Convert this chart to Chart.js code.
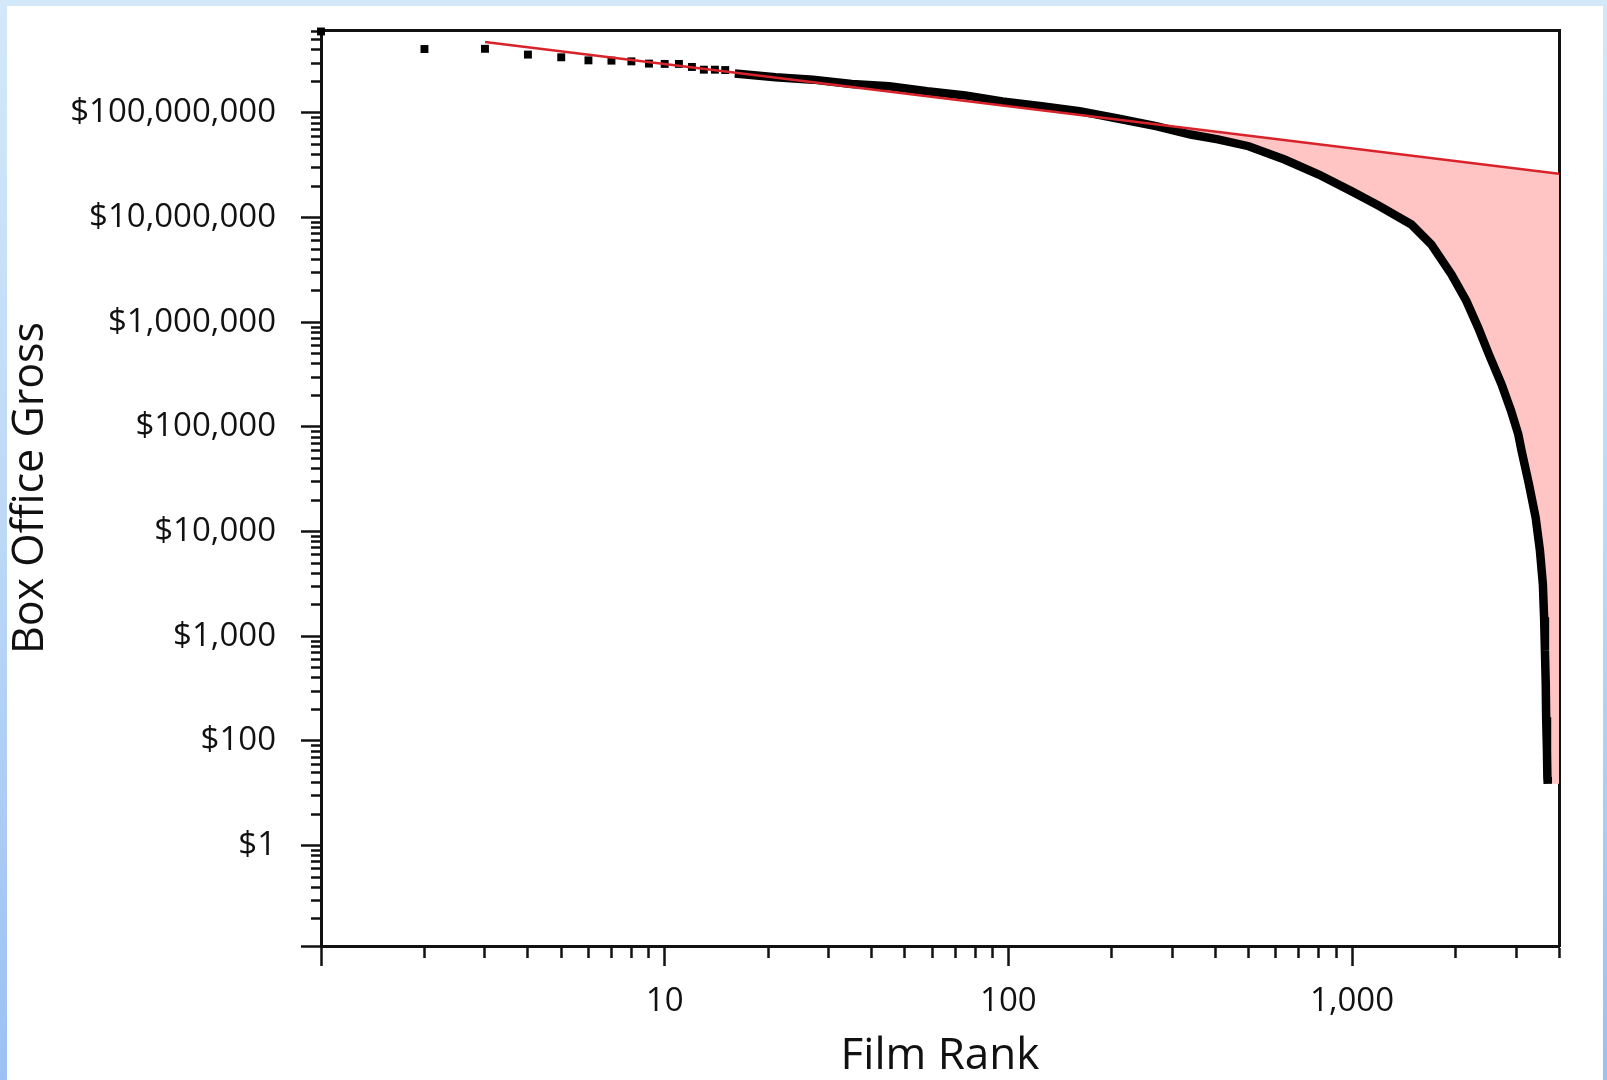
<!DOCTYPE html>
<html>
<head>
<meta charset="utf-8">
<title>Box Office Gross by Film Rank</title>
<script src="https://cdn.jsdelivr.net/npm/chart.js@4.4.1/dist/chart.umd.min.js"></script>
<style>
    html, body { margin: 0; padding: 0; }
    body {
        width: 1607px; height: 1080px; overflow: hidden; position: relative;
        background: linear-gradient(to bottom, #d3e8f9 0%, #bcd8f7 50%, #9bc0f3 100%);
    }
    .panel { position: absolute; left: 7px; top: 6px; right: 4px; bottom: 0; background: #fff; }
    #chart { position: absolute; left: 0; top: 0; }
</style>
</head>
<body>
<div class="panel"></div>
<canvas id="chart" width="1607" height="1080"></canvas>
<script>
// top ranked films, each one drawn as its own square
var topRanks = [1, 2, 3, 4, 5, 6, 7, 8, 9, 10, 11, 12, 13, 14, 15];
var topGross = [6.0e8, 4.08e8, 4.1e8, 3.61e8, 3.40e8, 3.18e8, 3.16e8, 3.11e8, 2.96e8, 2.94e8, 2.94e8, 2.75e8, 2.59e8, 2.59e8, 2.57e8];

// the rest of the list (so dense it reads as a thick band)
var bandRanks = [16, 21, 27, 35, 45, 58, 75, 96, 125, 161, 208, 269, 339, 407, 500, 636, 800, 995, 1200, 1488,
                 1700, 1946, 2150, 2328, 2500, 2722, 2900, 3045, 3113, 3270, 3420, 3520, 3590, 3620, 3640, 3660,
                 3670, 3690, 3700, 3710];
var bandGross = [2.38e8, 2.19e8, 2.08e8, 1.89e8, 1.80e8, 1.61e8, 1.47e8, 1.29e8, 1.16e8, 1.04e8, 8.84e7, 7.47e7,
                 6.22e7, 5.6e7, 4.81e7, 3.59e7, 2.58e7, 1.79e7, 1.29e7, 8.6e6, 5.55e6, 2.87e6, 1.6e6, 8.88e5,
                 4.95e5, 2.56e5, 1.43e5, 8.5e4, 5.9e4, 2.84e4, 1.37e4, 6.6e3, 3.16e3, 1.52e3, 731, 352,
                 169, 81, 45, 39];

// power law fit (red line)
var fitRanks = [3, 4000];
var fitGross = [4.75e8, 2.62e7];

// axis ticks with labels
var xTickValues = [10, 100, 1000];
var xTickLabels = ['10', '100', '1,000'];
var yTickValues = [1e1, 1e2, 1e3, 1e4, 1e5, 1e6, 1e7, 1e8];
var yTickLabels = ['$1', '$100', '$1,000', '$10,000', '$100,000', '$1,000,000', '$10,000,000', '$100,000,000'];

var xMin = 1, xMax = 4000;
var yMin = 1.1, yMax = 6.2e8;
var fillFromRank = 200;     // pink gap starts where the band leaves the fit


function toPoints(xs, ys) {
    return xs.map(function (x, i) { return {x: x, y: ys[i]}; });
}

// axis start, then 1..9 x 10^n up to max
function logTicks(min, max) {
    var out = [min];
    for (var p = 1; p <= max; p *= 10) {
        for (var m = 1; m < 10; m++) {
            var v = m * p;
            if (v > min && v <= max) out.push(v);
        }
    }
    return out;
}

function isDecade(v) {
    var l = Math.log10(v);
    return Math.abs(l - Math.round(l)) < 1e-9;
}

// long ticks on decades and at the axis start, short ones between
// (the dash keeps only the part next to the axis)
function axisGrid(side) {
    return {
        drawOnChartArea: false,
        tickLength: 20,
        tickWidth: 2.5,
        tickColor: '#111',
        tickBorderDash: function (ctx) {
            if (!ctx.tick) return [];
            var v = ctx.tick.value;
            if (isDecade(v) || v <= ctx.scale.min) return [];
            return side === 'left' ? [0, 10, 10, 100] : [10, 100];
        }
    };
}

// fixed box sizes so the plot frame lands where it should
function fixSize(w, h) {
    return function (scale) {
        if (w !== null) scale.width = w;
        if (h !== null) scale.height = h;
        scale.paddingTop = 0;
        scale.paddingBottom = 0;
        scale.paddingLeft = 0;
        scale.paddingRight = 0;
    };
}

var fillPoints = toPoints(bandRanks, bandGross).filter(function (p) { return p.x >= fillFromRank; });
fillPoints.push({x: xMax, y: bandGross[bandGross.length - 1]});

Chart.defaults.font.family = "'Open Sans', 'Noto Sans', sans-serif";
Chart.defaults.color = '#111';

var ctx = document.getElementById('chart');
var chart = new Chart(ctx, {
    type: 'scatter',
    data: {
        datasets: [{
            label: 'fit',
            data: toPoints(fitRanks, fitGross),
            showLine: true,
            borderColor: '#d9232b',
            borderWidth: 2.5,
            pointRadius: 0,
            fill: false,
            order: 0
        }, {
            label: 'top films',
            data: toPoints(topRanks, topGross),
            pointStyle: 'rect',
            pointRadius: 5.6,
            pointBackgroundColor: '#000',
            pointBorderWidth: 0,
            clip: false,
            order: 1
        }, {
            label: 'films',
            data: toPoints(bandRanks, bandGross),
            showLine: true,
            borderColor: '#000',
            borderWidth: 8.5,
            pointRadius: 0,
            fill: false,
            order: 2
        }, {
            label: 'gap',
            data: fillPoints,
            showLine: true,
            borderWidth: 0,
            borderColor: 'rgba(0,0,0,0)',
            pointRadius: 0,
            fill: {target: 0, above: 'rgba(0,0,0,0)', below: '#ffc4c4'},
            order: 3
        }]
    },
    options: {
        responsive: false,
        animation: false,
        layout: {padding: {top: 30, right: 48, bottom: 0, left: 0}},
        plugins: {
            legend: {display: false},
            tooltip: {enabled: false}
        },
        scales: {
            x: {
                type: 'logarithmic',
                position: 'bottom',
                min: xMin,
                max: xMax,
                afterBuildTicks: function (scale) {
                    scale.ticks = logTicks(xMin, xMax).map(function (v) { return {value: v}; });
                },
                afterFit: fixSize(null, 134),
                border: {display: true, width: 3, color: '#111'},
                grid: axisGrid('bottom'),
                ticks: {
                    autoSkip: false,
                    maxRotation: 0,
                    padding: 16,
                    font: {size: 33},
                    callback: function (v) {
                        var i = xTickValues.indexOf(v);
                        return i < 0 ? '' : xTickLabels[i];
                    }
                },
                title: {
                    display: true,
                    text: 'Film Rank',
                    font: {size: 44, lineHeight: 1},
                    padding: {top: 0, bottom: 2}
                }
            },
            y: {
                type: 'logarithmic',
                position: 'left',
                min: yMin,
                max: yMax,
                afterBuildTicks: function (scale) {
                    scale.ticks = logTicks(yMin, yMax).map(function (v) { return {value: v}; });
                },
                afterFit: fixSize(321, null),
                border: {display: true, width: 3, color: '#111'},
                grid: axisGrid('left'),
                ticks: {
                    autoSkip: false,
                    padding: 25,
                    font: {size: 33},
                    callback: function (v) {
                        var i = yTickValues.indexOf(v);
                        return i < 0 ? '' : yTickLabels[i];
                    }
                },
                title: {
                    display: true,
                    text: 'Box Office Gross',
                    font: {size: 43, lineHeight: 1},
                    padding: {top: 9, bottom: 0}
                }
            },
            // top and right edges of the frame
            xTop: {
                axis: 'x',
                type: 'linear',
                position: 'top',
                grid: {display: false},
                ticks: {display: false},
                border: {display: true, width: 3, color: '#111'},
                afterFit: fixSize(null, 0)
            },
            yRight: {
                axis: 'y',
                type: 'linear',
                position: 'right',
                grid: {display: false},
                ticks: {display: false},
                border: {display: true, width: 3, color: '#111'},
                afterFit: fixSize(0, null)
            }
        }
    }
});
</script>
</body>
</html>
